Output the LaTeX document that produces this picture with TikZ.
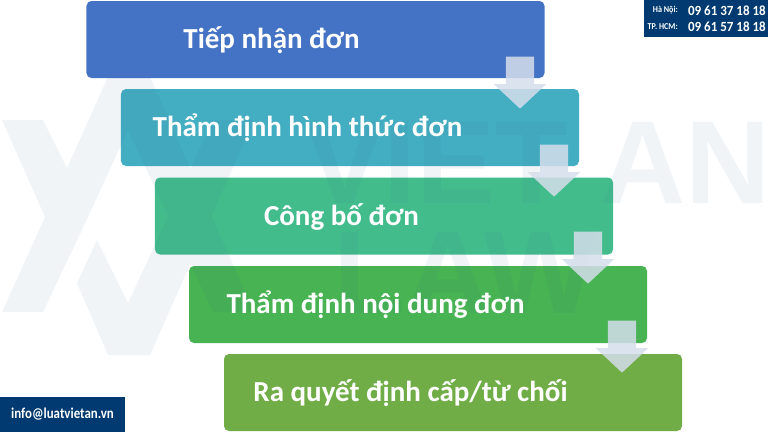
\documentclass[tikz,border=0pt]{standalone}
\usepackage{fontspec}
\setmainfont{Carlito}
\newfontfamily\markfont{Liberation Sans}
\usetikzlibrary{shapes.arrows}
\definecolor{navyband}{HTML}{003A70}
\definecolor{stepa}{HTML}{4472C4}
\definecolor{stepb}{HTML}{43AEC2}
\definecolor{stepc}{HTML}{43BC8C}
\definecolor{stepd}{HTML}{47B352}
\definecolor{stepe}{HTML}{70AD47}
\definecolor{markgray}{HTML}{2A5F94}
\definecolor{arrowfill}{HTML}{D5DEEB}
\tikzset{
  stepbox/.style={rectangle,rounded corners=5bp,minimum width=458bp,minimum height=77bp,inner sep=0pt},
  steptext/.style={text=white,font=\bfseries\fontsize{29bp}{30bp}\selectfont},
  downarrow/.style={single arrow,shape border rotate=270,fill=arrowfill,fill opacity=.85,minimum height=52bp,text width=28bp,single arrow head extend=12bp,single arrow tip angle=94,inner sep=0pt},
  markshape/.style={fill=markgray,fill opacity=.07,draw=none},
  marktext/.style={text=markgray,text opacity=.07,font=\markfont\bfseries\fontsize{118bp}{118bp}\selectfont,inner sep=0pt,anchor=base west},
  band/.style={fill=navyband,text=white,inner sep=0pt},
  bandsmall/.style={text=white,inner sep=0pt,anchor=east,font=\bfseries\fontsize{9bp}{10bp}\selectfont},
  bandnum/.style={text=white,inner sep=0pt,anchor=east,font=\bfseries\fontsize{14bp}{15bp}\selectfont}
}
\begin{document}
\begin{tikzpicture}[x=1bp,y=-1bp]
  \useasboundingbox (0,0) rectangle (768,432);
  \node (S1) at (315.5,39.5) [stepbox,fill=stepa] {};
  \node (S2) at (350,127.5) [stepbox,fill=stepb] {};
  \node (S3) at (384,216) [stepbox,fill=stepc] {};
  \node (S4) at (418,304.5) [stepbox,fill=stepd] {};
  \node (S5) at (453,392.5) [stepbox,fill=stepe] {};
  % watermark
  \fill [markshape] (2,120) -- (43,120) -- (67,168) -- (108,77) -- (150,77) -- (254,312) -- (213,312) -- (128,130) -- (88,217) -- (43,312) -- (2,312) -- (45,217) -- cycle
    (77,283) -- (97,240) -- (128,303) -- (213,120) -- (254,120) -- (150,355) -- (108,355) -- cycle;
  \node (W1) at (305,203) [marktext] {VIET};
  \node (W2) at (600,203) [marktext] {AN};
  \node (W3) at (333,313) [marktext] {LAW};
  % labels
  \node (T1) at (271.5,40) [steptext] {Tiếp nhận đơn};
  \node (T2) at (307.5,128) [steptext] {Thẩm định hình thức đơn};
  \node (T3) at (341.5,217) [steptext] {Công bố đơn};
  \node (T4) at (375.5,305) [steptext] {Thẩm định nội dung đơn};
  \node (T5) at (410.5,393) [steptext] {Ra quyết định cấp/từ chối};
  \node (A1) at (520,76) [downarrow] {};
  \node (A2) at (554,164) [downarrow] {};
  \node (A3) at (588,251) [downarrow] {};
  \node (A4) at (622,340) [downarrow] {};
  % contact bands
  \node (B1) at (706,18.5) [band,minimum width=124bp,minimum height=37bp] {};
  \node (B1a) at (678,10.5) [bandsmall] {\scalebox{.9}[1]{Hà Nội:}};
  \node (B1b) at (766,10.5) [bandnum] {\scalebox{.93}[1]{09 61 37 18 18}};
  \node (B1c) at (678,27) [bandsmall] {\scalebox{.9}[1]{TP. HCM:}};
  \node (B1d) at (766,27) [bandnum] {\scalebox{.93}[1]{09 61 57 18 18}};
  \node (B2) at (62.5,414.5) [band,minimum width=125bp,minimum height=35bp,font=\bfseries\fontsize{15bp}{16bp}\selectfont] {\scalebox{.86}[1]{info@luatvietan.vn}};
\end{tikzpicture}
\end{document}
